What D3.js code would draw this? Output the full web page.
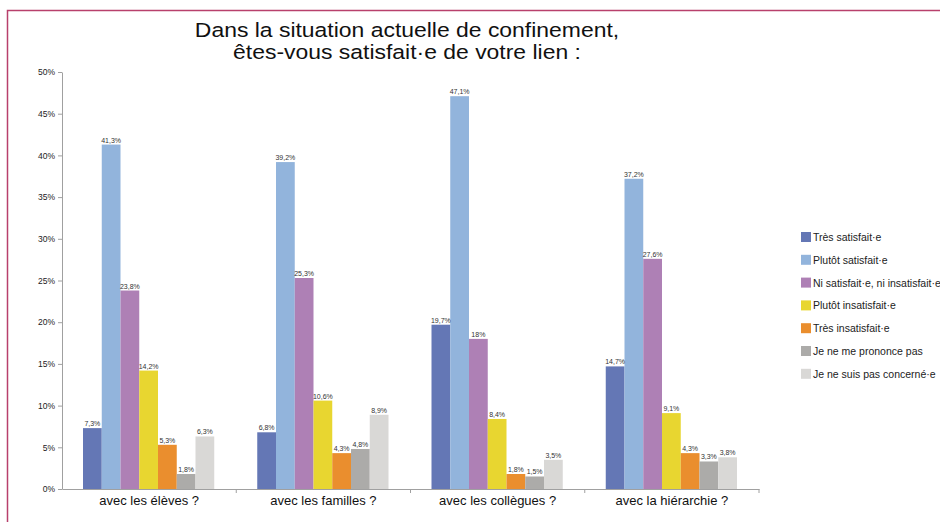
<!DOCTYPE html>
<html>
<head>
<meta charset="utf-8">
<script src="https://cdn.jsdelivr.net/npm/d3@7"></script>
<style>
  body { margin: 0; background: #fff; }
  svg text { font-family: "Liberation Sans", Arial, sans-serif; }
</style>
</head>
<body>
<div id="chart"></div>
<script>
const groups = ["avec les élèves ?", "avec les familles ?", "avec les collègues ?", "avec la hiérarchie ?"]
const answers = ["Très satisfait·e", "Plutôt satisfait·e", "Ni satisfait·e, ni insatisfait·e",
  "Plutôt insatisfait·e", "Très insatisfait·e", "Je ne me prononce pas", "Je ne suis pas concerné·e"]
const colors = ["#6477b5", "#92b4dc", "#ae80b5", "#e8d630", "#ea8e2e", "#acaba9", "#d9d8d6"]

// one array per answer, in group order
const tresSatisfait = [7.3, 6.8, 19.7, 14.7]
const plutotSatisfait = [41.3, 39.2, 47.1, 37.2]
const niNi = [23.8, 25.3, 18, 27.6]
const plutotInsatisfait = [14.2, 10.6, 8.4, 9.1]
const tresInsatisfait = [5.3, 4.3, 1.8, 4.3]
const nePrononcePas = [1.8, 4.8, 1.5, 3.3]
const pasConcerne = [6.3, 8.9, 3.5, 3.8]
const series = [tresSatisfait, plutotSatisfait, niNi, plutotInsatisfait, tresInsatisfait, nePrononcePas, pasConcerne]

const yTicks = [0, 5, 10, 15, 20, 25, 30, 35, 40, 45, 50]

const W = 940, H = 522
const svg = d3.select("#chart").append("svg")
  .attr("width", W)
  .attr("height", H)

// frame
svg.append("path")
  .attr("d", `M7.5,${H} L7.5,10.5 L${W},10.5`)
  .attr("fill", "none")
  .attr("stroke", "#b8406c")
  .attr("stroke-width", 1.5)

// title (source text is a bit wider than Arial, so stretch it)
const title = svg.append("text")
  .attr("transform", "translate(407,0) scale(1.13,1)")
  .attr("text-anchor", "middle")
  .attr("font-size", 20.3)
  .attr("fill", "#111")
title.append("tspan").attr("x", 0).attr("y", 37).text("Dans la situation actuelle de confinement,")
title.append("tspan").attr("x", 0).attr("y", 59).text("êtes-vous satisfait·e de votre lien :")

const x0 = d3.scaleBand()
  .domain(groups)
  .range([62, 759])
  .paddingInner(0)
  .paddingOuter(0)

const x1 = d3.scaleBand()
  .domain(d3.range(answers.length))
  .range([21, x0.bandwidth() - 22])

const y = d3.scaleLinear()
  .domain([0, 50])
  .range([489, 72])

const fmt = v => String(v).replace(".", ",") + "%"

// y axis
const yAxis = svg.append("g")
  .attr("transform", "translate(62,0)")
  .call(d3.axisLeft(y).tickValues(yTicks).tickSize(4).tickSizeOuter(0).tickFormat(d => d + "%"))
yAxis.select(".domain").attr("stroke", "#a0a0a0")
yAxis.selectAll(".tick line").attr("stroke", "#a0a0a0")
yAxis.selectAll(".tick text").attr("font-size", 8.5).attr("fill", "#222").attr("x", -7)
  .style("font-family", "'Liberation Sans', Arial, sans-serif")

// x axis
const xAxis = svg.append("g")
  .attr("transform", "translate(0,489)")
  .call(d3.axisBottom(x0).tickSize(0).tickSizeOuter(0))
xAxis.select(".domain").attr("stroke", "#a0a0a0")
xAxis.selectAll(".tick text").attr("font-size", 13).attr("fill", "#111").attr("dy", "1.0em")
  .style("font-family", "'Liberation Sans', Arial, sans-serif")
// group separators
svg.append("g").selectAll("line")
  .data(groups.slice(1).concat(["end"]))
  .enter().append("line")
  .attr("x1", (d, i) => 62 + x0.step() * (i + 1))
  .attr("x2", (d, i) => 62 + x0.step() * (i + 1))
  .attr("y1", 489).attr("y2", 493)
  .attr("stroke", "#a0a0a0")

// bars
const gGroups = svg.append("g").selectAll("g")
  .data(groups)
  .enter().append("g")
  .attr("transform", d => `translate(${x0(d)},0)`)

gGroups.selectAll("rect")
  .data((g, gi) => series.map((s, si) => ({ si: si, v: s[gi] })))
  .enter().append("rect")
  .attr("x", d => x1(d.si))
  .attr("width", x1.bandwidth())
  .attr("y", d => y(d.v))
  .attr("height", d => y(0) - y(d.v))
  .attr("fill", d => colors[d.si])

gGroups.selectAll("text")
  .data((g, gi) => series.map((s, si) => ({ si: si, v: s[gi] })))
  .enter().append("text")
  .attr("x", d => x1(d.si) + x1.bandwidth() / 2)
  .attr("y", d => y(d.v) - 2)
  .attr("text-anchor", "middle")
  .attr("font-size", 7)
  .attr("fill", "#333")
  .text(d => fmt(d.v))

// legend
const legend = svg.append("g")
  .attr("transform", "translate(801,232)")
const rows = legend.selectAll("g")
  .data(answers)
  .enter().append("g")
  .attr("transform", (d, i) => `translate(0,${i * 22.8})`)
rows.append("rect")
  .attr("width", 10)
  .attr("height", 10)
  .attr("fill", (d, i) => colors[i])
rows.append("text")
  .attr("x", 12)
  .attr("y", 9)
  .attr("font-size", 10.5)
  .attr("fill", "#222")
  .text(d => d)
</script>
</body>
</html>
